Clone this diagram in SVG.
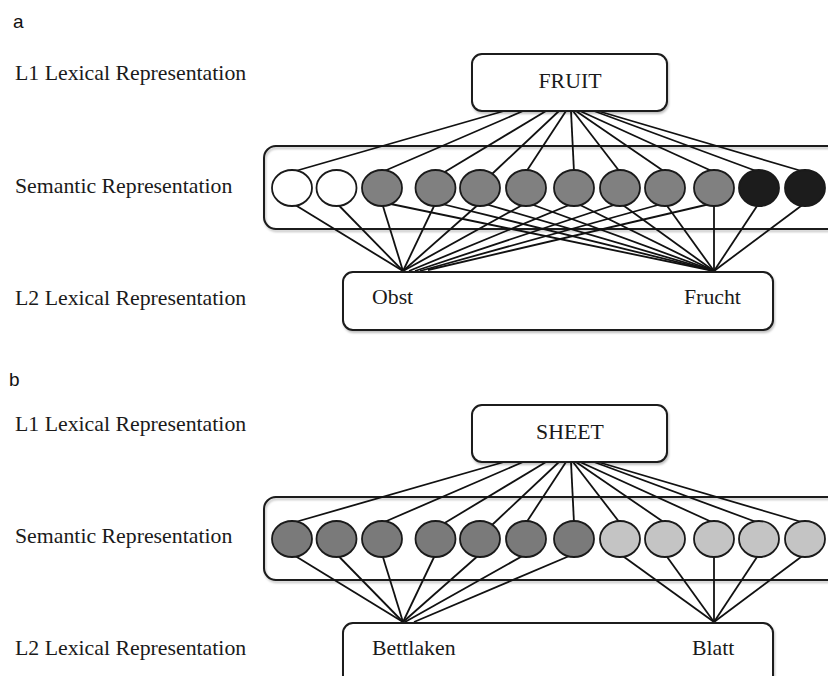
<svg xmlns="http://www.w3.org/2000/svg" width="828" height="676" viewBox="0 0 828 676">
<style>
.lbl{font-family:"Liberation Serif","Times New Roman",serif;font-size:21.8px;fill:#1a1a1a}
.pl{font-family:"Liberation Sans",Arial,sans-serif;font-size:19px;fill:#111}
.box{fill:#fff;stroke:#1a1a1a;stroke-width:2;filter:url(#sh)}
.cont{fill:none;stroke:#1a1a1a;stroke-width:2;filter:url(#sh)}
.ln line{stroke:#111;stroke-width:1.8}
.c{stroke:#1a1a1a;stroke-width:1.8}
.w{fill:#fff}.g{fill:#808080}.k{fill:#1c1c1c}.dg{fill:#7a7a7a}.lg{fill:#c4c4c4}
</style>
<defs>
<filter id="sh" x="-5%" y="-10%" width="110%" height="130%">
<feDropShadow dx="1" dy="2" stdDeviation="1.2" flood-color="#000" flood-opacity="0.25"/>
</filter>
</defs>
<rect width="828" height="676" fill="#fff"/>

<!-- Panel a -->
<text class="pl" x="13" y="28">a</text>
<text class="lbl" x="15" y="80">L1 Lexical Representation</text>
<text class="lbl" x="15" y="193">Semantic Representation</text>
<text class="lbl" x="15" y="305">L2 Lexical Representation</text>

<g id="a-semantic-container"><rect class="cont" x="264" y="146" width="590" height="83" rx="12"/></g>

<g id="a-connectors" class="ln">
<line x1="504" y1="111" x2="292" y2="172"/>
<line x1="523" y1="111" x2="382" y2="172"/>
<line x1="546" y1="111" x2="443" y2="173"/>
<line x1="559" y1="111" x2="492" y2="174"/>
<line x1="566" y1="111" x2="526" y2="172"/>
<line x1="571" y1="111" x2="574" y2="172"/>
<line x1="573" y1="111" x2="620" y2="172"/>
<line x1="576" y1="111" x2="665" y2="172"/>
<line x1="580" y1="111" x2="714" y2="172"/>
<line x1="594" y1="111" x2="759" y2="172"/>
<line x1="598" y1="111" x2="805" y2="172"/>

<line x1="292" y1="203" x2="403" y2="271"/>
<line x1="336.5" y1="203" x2="403" y2="271"/>
<line x1="382" y1="203" x2="403" y2="271"/>
<line x1="435.5" y1="203" x2="403" y2="271"/>
<line x1="480" y1="203" x2="403" y2="271"/>
<line x1="526" y1="203" x2="403" y2="271"/>
<line x1="574" y1="203" x2="409" y2="271"/>
<line x1="620" y1="203" x2="415" y2="271"/>
<line x1="665" y1="203" x2="420" y2="271"/>
<line x1="714" y1="203" x2="428" y2="270"/>

<line x1="386" y1="203" x2="714" y2="271"/>
<line x1="438" y1="203" x2="714" y2="271"/>
<line x1="482" y1="203" x2="714" y2="271"/>
<line x1="528" y1="203" x2="714" y2="271"/>
<line x1="576" y1="203" x2="714" y2="271"/>
<line x1="620" y1="203" x2="714" y2="271"/>
<line x1="665" y1="203" x2="714" y2="271"/>
<line x1="714" y1="203" x2="714" y2="271"/>
<line x1="759" y1="203" x2="714" y2="271"/>
<line x1="805" y1="203" x2="714" y2="271"/>
</g>

<g id="a-L1-FRUIT"><rect class="box" x="472" y="54" width="195" height="57" rx="10"/><text class="lbl" x="570" y="88" text-anchor="middle">FRUIT</text></g>

<g id="a-semantic-nodes">
<ellipse class="c w" cx="292" cy="188" rx="20" ry="18"/>
<ellipse class="c w" cx="336.5" cy="188" rx="20" ry="18"/>
<ellipse class="c g" cx="382" cy="188" rx="20" ry="18"/>
<ellipse class="c g" cx="435.5" cy="188" rx="20" ry="18"/>
<ellipse class="c g" cx="480" cy="188" rx="20" ry="18"/>
<ellipse class="c g" cx="526" cy="188" rx="20" ry="18"/>
<ellipse class="c g" cx="574" cy="188" rx="20" ry="18"/>
<ellipse class="c g" cx="620" cy="188" rx="20" ry="18"/>
<ellipse class="c g" cx="665" cy="188" rx="20" ry="18"/>
<ellipse class="c g" cx="714" cy="188" rx="20" ry="18"/>
<ellipse class="c k" cx="759" cy="188" rx="20" ry="18"/>
<ellipse class="c k" cx="805" cy="188" rx="20" ry="18"/>
</g>

<g id="a-L2"><rect class="box" x="343" y="272" width="430" height="58" rx="10"/>
<text class="lbl" x="372" y="304">Obst</text>
<text class="lbl" x="684" y="304">Frucht</text></g>

<!-- Panel b -->
<text class="pl" x="9" y="386">b</text>
<text class="lbl" x="15" y="431">L1 Lexical Representation</text>
<text class="lbl" x="15" y="543">Semantic Representation</text>
<text class="lbl" x="15" y="655">L2 Lexical Representation</text>

<g id="b-semantic-container"><rect class="cont" x="264" y="497" width="590" height="83" rx="12"/></g>

<g id="b-connectors" class="ln">
<line x1="504" y1="462" x2="292" y2="523"/>
<line x1="523" y1="462" x2="382" y2="523"/>
<line x1="546" y1="462" x2="443" y2="524"/>
<line x1="559" y1="462" x2="492" y2="525"/>
<line x1="566" y1="462" x2="526" y2="523"/>
<line x1="571" y1="462" x2="574" y2="523"/>
<line x1="573" y1="462" x2="620" y2="523"/>
<line x1="576" y1="462" x2="665" y2="523"/>
<line x1="580" y1="462" x2="714" y2="523"/>
<line x1="594" y1="462" x2="759" y2="523"/>
<line x1="598" y1="462" x2="805" y2="523"/>

<line x1="292" y1="554" x2="403" y2="622"/>
<line x1="336.5" y1="554" x2="403" y2="622"/>
<line x1="382" y1="554" x2="403" y2="622"/>
<line x1="435.5" y1="554" x2="403" y2="622"/>
<line x1="480" y1="554" x2="403" y2="622"/>
<line x1="526" y1="554" x2="405" y2="622"/>
<line x1="574" y1="554" x2="414" y2="622"/>

<line x1="620" y1="554" x2="714" y2="622"/>
<line x1="665" y1="554" x2="714" y2="622"/>
<line x1="714" y1="554" x2="714" y2="622"/>
<line x1="759" y1="554" x2="714" y2="622"/>
<line x1="805" y1="554" x2="714" y2="622"/>
</g>

<g id="b-L1-SHEET"><rect class="box" x="472" y="405" width="195" height="57" rx="10"/><text class="lbl" x="570" y="439" text-anchor="middle">SHEET</text></g>

<g id="b-semantic-nodes">
<ellipse class="c dg" cx="292" cy="539" rx="20" ry="18"/>
<ellipse class="c dg" cx="336.5" cy="539" rx="20" ry="18"/>
<ellipse class="c dg" cx="382" cy="539" rx="20" ry="18"/>
<ellipse class="c dg" cx="435.5" cy="539" rx="20" ry="18"/>
<ellipse class="c dg" cx="480" cy="539" rx="20" ry="18"/>
<ellipse class="c dg" cx="526" cy="539" rx="20" ry="18"/>
<ellipse class="c dg" cx="574" cy="539" rx="20" ry="18"/>
<ellipse class="c lg" cx="620" cy="539" rx="20" ry="18"/>
<ellipse class="c lg" cx="665" cy="539" rx="20" ry="18"/>
<ellipse class="c lg" cx="714" cy="539" rx="20" ry="18"/>
<ellipse class="c lg" cx="759" cy="539" rx="20" ry="18"/>
<ellipse class="c lg" cx="805" cy="539" rx="20" ry="18"/>
</g>

<g id="b-L2"><rect class="box" x="343" y="623" width="430" height="70" rx="10"/>
<text class="lbl" x="372" y="655">Bettlaken</text>
<text class="lbl" x="692" y="655">Blatt</text></g>
</svg>
